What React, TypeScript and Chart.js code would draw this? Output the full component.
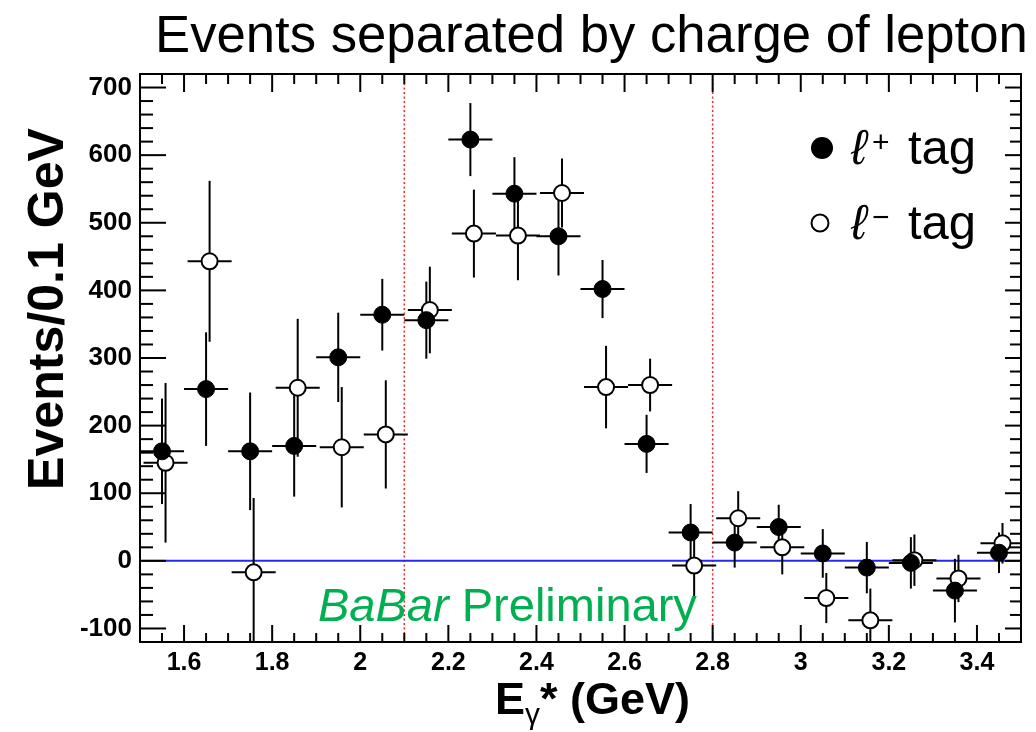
import React, { useEffect, useRef } from 'react';
import { Chart, registerables } from 'chart.js';

Chart.register(...registerables);

// ---- data ----
const binCenters = [1.55, 1.65, 1.75, 1.85, 1.95, 2.05, 2.15, 2.25, 2.35, 2.45, 2.55, 2.65, 2.75, 2.85, 2.95, 3.05, 3.15, 3.25, 3.35, 3.45];
const plusValues = [162, 254, 162, 170, 301, 364, 356, 623, 543, 480, 402, 173, 42, 27, 50, 11, -10, -3, -44, 12];
const plusErrors = [78, 84, 87, 75, 66, 53, 57, 54, 54, 58, 43, 43, 42, 37, 33, 36, 38, 38, 47, 30];
const minusValues = [145, 443, -17, 256, 168, 187, 371, 484, 481, 544, 257, 260, -7, 63, 20, -55, -88, 1, -26, 26];
const minusErrors = [118, 119, 110, 102, 89, 80, 64, 65, 66, 51, 61, 39, 46, 40, 40, 37, 47, 38, 35, 30];
const binHalfWidth = 0.05;
const minusOffset = 0.008;
const signalWindow = [2.1, 2.8];
const xTickValues = [1.6, 1.8, 2.0, 2.2, 2.4, 2.6, 2.8, 3.0, 3.2, 3.4];
const xTickLabels = ['1.6', '1.8', '2', '2.2', '2.4', '2.6', '2.8', '3', '3.2', '3.4'];
const yTickValues = [-100, 0, 100, 200, 300, 400, 500, 600, 700];
const yTickLabels = ['-100', '0', '100', '200', '300', '400', '500', '600', '700'];

const FONT = '"Liberation Sans", Arial, Helvetica, sans-serif';

function seg(ctx: CanvasRenderingContext2D, x1: number, y1: number, x2: number, y2: number) {
  ctx.beginPath();
  ctx.moveTo(x1, y1);
  ctx.lineTo(x2, y2);
  ctx.stroke();
}

function fitFont(ctx: CanvasRenderingContext2D, style: string, text: string, width: number) {
  ctx.font = `${style} 100px ${FONT}`;
  const w = ctx.measureText(text).width;
  return (100 * width) / w;
}

const overlay = {
  id: 'overlay',
  beforeDatasetsDraw(chart: any) {
    const { ctx, chartArea: a, scales } = chart;
    const x = scales.x;
    const y = scales.y;
    ctx.save();
    ctx.beginPath();
    ctx.rect(a.left, a.top, a.right - a.left, a.bottom - a.top);
    ctx.clip();
    // signal window lines
    ctx.strokeStyle = 'rgb(225,45,45)';
    ctx.lineWidth = 1.5;
    ctx.setLineDash([2, 2.5]);
    for (const v of signalWindow) {
      const px = x.getPixelForValue(v);
      seg(ctx, px, a.top, px, a.bottom);
    }
    ctx.setLineDash([]);
    // zero line
    ctx.strokeStyle = 'rgb(40,40,235)';
    ctx.lineWidth = 2;
    const y0 = y.getPixelForValue(0);
    seg(ctx, a.left, y0, a.right, y0);
    // error bars
    ctx.strokeStyle = '#000';
    ctx.lineWidth = 2;
    const drawErr = (vals: number[], errs: number[], off: number) => {
      for (let i = 0; i < binCenters.length; i++) {
        const cx = binCenters[i] + off;
        const px = x.getPixelForValue(cx);
        const py = y.getPixelForValue(vals[i]);
        seg(ctx, x.getPixelForValue(cx - binHalfWidth), py, x.getPixelForValue(cx + binHalfWidth), py);
        seg(ctx, px, y.getPixelForValue(vals[i] + errs[i]), px, y.getPixelForValue(vals[i] - errs[i]));
      }
    };
    drawErr(minusValues, minusErrors, minusOffset);
    drawErr(plusValues, plusErrors, 0);
    ctx.restore();
  },
  afterDatasetsDraw(chart: any) {
    const { ctx, chartArea: a, scales } = chart;
    const x = scales.x;
    const y = scales.y;
    ctx.save();
    ctx.strokeStyle = '#000';
    ctx.lineWidth = 2;
    ctx.strokeRect(a.left, a.top, a.right - a.left, a.bottom - a.top);
    // y ticks every 20
    for (let k = -6; k <= 36; k++) {
      const v = k * 20;
      const py = y.getPixelForValue(v);
      const major = k % 5 === 0;
      seg(ctx, a.left, py, a.left + (major ? 26 : 13), py);
      seg(ctx, a.right, py, a.right - (major ? 16 : 11), py);
    }
    // x ticks every 0.05
    for (let k = 30; k <= 70; k++) {
      const v = k * 0.05;
      const px = x.getPixelForValue(v);
      const major = k % 4 === 0;
      seg(ctx, px, a.top, px, a.top + (major ? 18 : 10));
      seg(ctx, px, a.bottom, px, a.bottom - (major ? 17 : 9));
    }
    ctx.restore();
  },
  afterDraw(chart: any) {
    const { ctx } = chart;
    ctx.save();
    ctx.fillStyle = '#000';
    ctx.textBaseline = 'alphabetic';
    ctx.textAlign = 'left';
    // title
    const title = 'Events separated by charge of lepton';
    const ts = fitFont(ctx, '400', title, 873);
    ctx.font = `400 ${ts}px ${FONT}`;
    ctx.fillText(title, 155, 52);
    // y title
    const yt = 'Events/0.1 GeV';
    const ys = fitFont(ctx, 'bold', yt, 362);
    ctx.save();
    ctx.translate(63, 309);
    ctx.rotate(-Math.PI / 2);
    ctx.font = `bold ${ys}px ${FONT}`;
    ctx.textAlign = 'center';
    ctx.fillText(yt, 0, 0);
    ctx.restore();
    // x title
    let cx = 495;
    ctx.font = `bold 45px ${FONT}`;
    ctx.fillText('E', cx, 714);
    cx += ctx.measureText('E').width;
    ctx.font = `400 30px ${FONT}`;
    ctx.fillText('γ', cx, 724);
    cx += ctx.measureText('γ').width;
    ctx.font = `bold 45px ${FONT}`;
    ctx.fillText('* (GeV)', cx, 714);
    // BaBar Preliminary
    ctx.fillStyle = 'rgb(0,176,80)';
    ctx.font = `italic 100px ${FONT}`;
    const w1 = ctx.measureText('BaBar').width;
    ctx.font = `400 100px ${FONT}`;
    const w2 = ctx.measureText(' Preliminary').width;
    const bs = (100 * 379) / (w1 + w2);
    ctx.font = `italic ${bs}px ${FONT}`;
    ctx.fillText('BaBar', 318, 621);
    const bw = ctx.measureText('BaBar').width;
    ctx.font = `400 ${bs}px ${FONT}`;
    ctx.fillText(' Preliminary', 318 + bw, 621);
    // legend
    ctx.fillStyle = '#000';
    ctx.beginPath();
    ctx.arc(822, 148, 11, 0, Math.PI * 2);
    ctx.fill();
    ctx.strokeStyle = '#000';
    ctx.lineWidth = 2;
    ctx.beginPath();
    ctx.arc(820, 223, 8.5, 0, Math.PI * 2);
    ctx.stroke();
    const rows: [string, number][] = [['+', 164], ['−', 239]];
    for (const [sign, base] of rows) {
      ctx.font = `italic 49px ${FONT}`;
      ctx.fillText('ℓ', 851, base);
      ctx.font = `400 30px ${FONT}`;
      ctx.fillText(sign, 872, base - 12);
      ctx.font = `400 49px ${FONT}`;
      ctx.fillText('tag', 908, base);
    }
    ctx.restore();
  },
};

export default function App() {
  const ref = useRef<HTMLCanvasElement | null>(null);
  useEffect(() => {
    if (!ref.current) return;
    const chart = new Chart(ref.current, {
      type: 'scatter',
      data: {
        datasets: [
          {
            label: 'ℓ+ tag',
            data: binCenters.map((b, i) => ({ x: b, y: plusValues[i] })),
            pointRadius: 8.5,
            pointHoverRadius: 8.5,
            pointStyle: 'circle',
            backgroundColor: '#000',
            borderColor: '#000',
            borderWidth: 1,
          },
          {
            label: 'ℓ− tag',
            data: binCenters.map((b, i) => ({ x: b + minusOffset, y: minusValues[i] })),
            pointRadius: 8,
            pointHoverRadius: 8,
            pointStyle: 'circle',
            backgroundColor: '#fff',
            borderColor: '#000',
            borderWidth: 2,
          },
        ],
      },
      options: {
        responsive: false,
        animation: false,
        devicePixelRatio: 1,
        events: [],
        layout: { padding: { top: 74, right: 15, left: 0, bottom: 0 } },
        plugins: { legend: { display: false }, tooltip: { enabled: false }, title: { display: false } },
        scales: {
          x: {
            type: 'linear',
            min: 1.5,
            max: 3.5,
            grid: { display: false, drawTicks: false },
            border: { display: false },
            ticks: {
              autoSkip: false,
              maxRotation: 0,
              padding: 6,
              color: '#000',
              font: { family: FONT, size: 25, weight: 'bold' },
              callback: (_v: any, i: number) => xTickLabels[i],
            },
            afterBuildTicks: (s: any) => {
              s.ticks = xTickValues.map((v) => ({ value: v }));
            },
            afterFit: (s: any) => {
              s.height = 90;
            },
          },
          y: {
            type: 'linear',
            min: -120,
            max: 720,
            grid: { display: false, drawTicks: false },
            border: { display: false },
            ticks: {
              autoSkip: false,
              padding: 8,
              color: '#000',
              font: { family: FONT, size: 26, weight: 'bold' },
              callback: (_v: any, i: number) => yTickLabels[i],
            },
            afterBuildTicks: (s: any) => {
              s.ticks = yTickValues.map((v) => ({ value: v }));
            },
            afterFit: (s: any) => {
              s.width = 140;
            },
          },
        },
      } as any,
      plugins: [overlay],
    });
    return () => chart.destroy();
  }, []);
  return (
    <div style={{ position: 'fixed', left: 0, top: 0, width: 1036, height: 732, background: '#fff' }}>
      <canvas ref={ref} width={1036} height={732} style={{ display: 'block' }} />
    </div>
  );
}
